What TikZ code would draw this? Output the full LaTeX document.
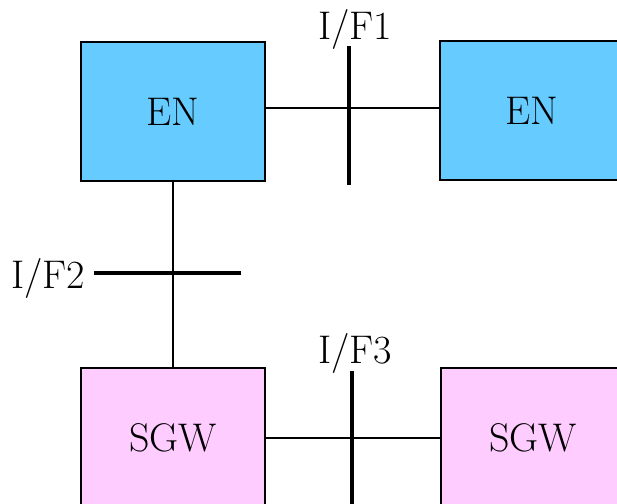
\documentclass[tikz,border=0pt]{standalone}
\usetikzlibrary{positioning}
\definecolor{enblue}{HTML}{66CCFF}
\definecolor{sgwpink}{HTML}{FFCCFF}
\begin{document}
\begin{tikzpicture}[x=0.5pt, y=-0.5pt,
  box/.style={shape=rectangle, draw=black, line width=1pt, minimum width=92pt, minimum height=69.5pt, inner sep=0pt, font=\fontsize{20}{24}\selectfont},
  ifbar/.style={line width=2pt},
  link/.style={line width=1pt},
  iflabel/.style={anchor=base, inner sep=0pt, font=\fontsize{20}{24}\selectfont}]
\useasboundingbox (0,0) rectangle (617,504);
\clip (0,0) rectangle (617,504);
\node[box, fill=enblue] (EN1) at (173, 111.5) {EN};
\node[box, fill=enblue] (EN2) at (532, 110.5) {EN};
\node[box, fill=sgwpink] (SGW1) at (173, 437.5) {SGW};
\node[box, fill=sgwpink] (SGW2) at (533, 437.5) {SGW};
\coordinate (IF1a) at (349, 46);
\coordinate (IF1b) at (349, 185);
\coordinate (IF2a) at (94, 273);
\coordinate (IF2b) at (241, 273);
\coordinate (IF3a) at (352, 371);
\coordinate (IF3b) at (352, 510);
\node[iflabel] (L1) at (355, 39) {I/F1};
\node[iflabel] (L2) at (48, 288) {I/F2};
\node[iflabel] (L3) at (355, 363) {I/F3};
\draw[link] ([yshift=2pt]EN1.east) -- ([yshift=2pt]EN1.east -| EN2.west);
\draw[link] (EN1.south) -- (SGW1.north);
\draw[link] (SGW1.east) -- (SGW1.east -| SGW2.west);
\draw[ifbar] (IF1a) -- (IF1b);
\draw[ifbar] (IF2a) -- (IF2b);
\draw[ifbar] (IF3a) -- (IF3b);
\end{tikzpicture}
\end{document}
